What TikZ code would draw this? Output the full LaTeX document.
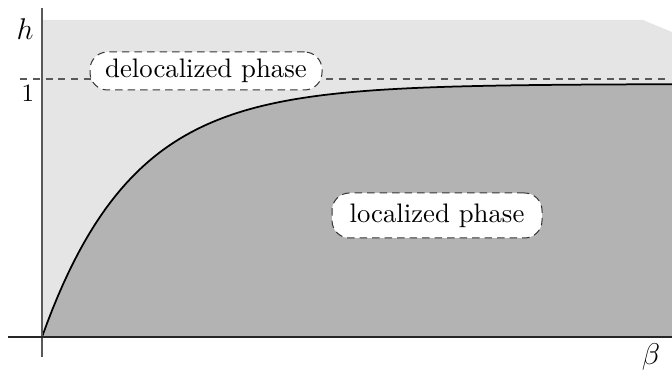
\documentclass[tikz,border=0pt]{standalone}
\begin{document}
\begin{tikzpicture}[x=0.4pt,y=-0.4pt,
  phasebox/.style={draw=black!80,densely dashed,line width=0.4pt,fill=white,
    rounded corners=7pt,inner sep=0pt,font=\fontsize{10.7}{13}\selectfont},
  axisline/.style={line width=0.45pt},
  boundary/.style={line width=0.7pt,black}]
\definecolor{lightphase}{HTML}{E5E5E5}
\definecolor{darkphase}{HTML}{B3B3B3}
\useasboundingbox (0,0) rectangle (672,371);
% delocalized region
\fill[lightphase] (42,20) -- (643,20) -- (672,32) -- (672,337) -- (42,337) -- cycle;
% localized region under the critical curve
\fill[darkphase] (42,337) -- plot[domain=42:672,samples=120] (\x,{337-253*(1-exp(-(\x-42)/90))}) -- (672,337) -- cycle;
% level h = 1
\coordinate (hl) at (20,79);
\coordinate (hr) at (668,79);
\draw[black!65,dashed,dash pattern=on 2.8pt off 2.3pt,line width=0.5pt] (hl) -- (hr);
% critical curve
\draw[boundary] plot[domain=42:672,samples=120] (\x,{337-253*(1-exp(-(\x-42)/90))});
% axes
\coordinate (yb) at (42,357);
\coordinate (yt) at (42,8);
\coordinate (xl) at (8,337);
\coordinate (xr) at (672,337);
\draw[axisline,black!65] (yb) -- (yt);
\draw[axisline,black!85] (xl) -- (xr);
% labels
\node[font=\fontsize{12.5}{14}\selectfont] (hlab) at (25,29) {$h$};
\node (one) at (28,93) {$1$};
\node[font=\fontsize{12.5}{14}\selectfont] (blab) at (651,357) {$\beta$};
\node[phasebox,minimum width=232*0.4pt,minimum height=38*0.4pt] (deloc) at (206,71) {delocalized phase};
\node[phasebox,minimum width=210*0.4pt,minimum height=45*0.4pt] (loc) at (437,215.5) {localized phase};
\end{tikzpicture}
\end{document}
